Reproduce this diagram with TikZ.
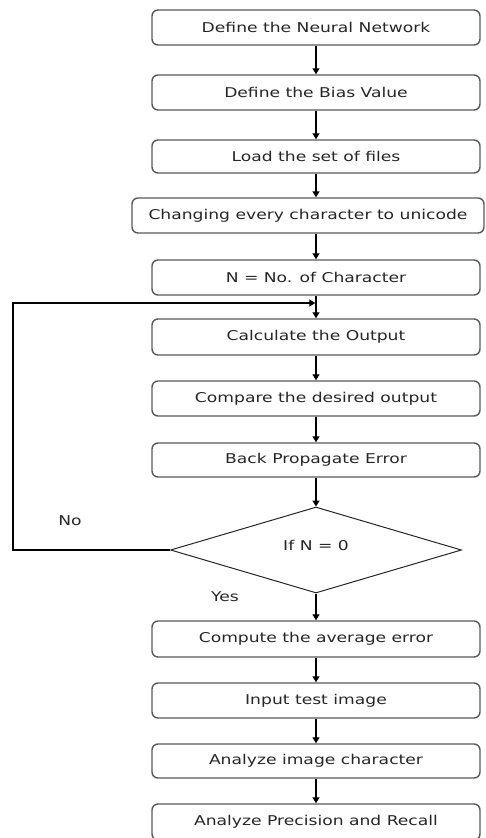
\documentclass[tikz,border=0pt]{standalone}
\usepackage{graphicx}
\usepackage{fontspec}
\setmainfont{DejaVu Sans}
\usetikzlibrary{arrows.meta,shapes.geometric}
\newcommand\sx[1]{\scalebox{1.27}[1]{#1}}
\begin{document}
\begin{tikzpicture}[x=1pt,y=-1pt,
  box/.style={draw=black!65, line width=1.4pt, rounded corners=6pt,
    minimum height=35pt, minimum width=328pt, inner sep=0pt,
    font=\fontsize{13.5}{15}\selectfont, text=black!85},
  dec/.style={draw=black!85, line width=1pt, shape=diamond, aspect=3.4,
    minimum width=291pt, minimum height=86pt, inner sep=0pt,
    font=\fontsize{13.5}{15}\selectfont, text=black!85},
  arr/.style={line width=1.3pt, -{Triangle[length=6pt,width=7pt]}},
  lbl/.style={font=\fontsize{13.5}{15}\selectfont, text=black!85}]
\clip (0,0) rectangle (485,838);
\node[box] (b1) at (316,27.5) {\sx{Define the Neural Network}};
\node[box] (b2) at (316,92.5) {\sx{Define the Bias Value}};
\node[box, minimum height=33pt] (b3) at (316,156.5) {\sx{Load the set of files}};
\node[box, minimum width=352pt] (b4) at (308,215.5) {\sx{Changing every character to unicode}};
\node[box] (b5) at (316,277.5) {\sx{N = No. of Character}};
\node[box, minimum height=36pt] (b6) at (316,337) {\sx{Calculate the Output}};
\node[box] (b7) at (316,398.5) {\sx{Compare the desired output}};
\node[box, minimum height=34pt] (b8) at (316,460) {\sx{Back Propagate Error}};
\node[dec] (d) at (316,550) {\raisebox{9pt}{\sx{If N = 0}}};
\node[box, minimum height=36pt] (b9) at (316,639) {\sx{Compute the average error}};
\node[box] (b10) at (316,700.5) {\sx{Input test image}};
\node[box, minimum height=34pt] (b11) at (316,761) {\sx{Analyze image character}};
\node[box, minimum height=36pt] (b12) at (316,822) {\sx{Analyze Precision and Recall}};
\node[lbl] (no) at (70,521) {\sx{No}};
\node[lbl] (yes) at (225,597) {\sx{Yes}};
\coordinate (m) at (316,303);
\coordinate (c1) at (13,550);
\coordinate (c2) at (13,303);
\draw[arr] (b1) -- (b2);
\draw[arr] (b2) -- (b3);
\draw[arr] (b3.south) -- (b3.south |- b4.north);
\draw[arr] (b5.north |- b4.south) -- (b5.north);
\draw[arr] (b5) -- (b6);
\draw[arr] (b6) -- (b7);
\draw[arr] (b7) -- (b8);
\draw[arr] (b8) -- (d);
\draw[arr] (d) -- (b9);
\draw[arr] (b9) -- (b10);
\draw[arr] (b10) -- (b11);
\draw[arr] (b11) -- (b12);
\draw[arr, shorten >=0.7pt] (d.west) -- (c1) -- (c2) -- (m);
\end{tikzpicture}
\end{document}
